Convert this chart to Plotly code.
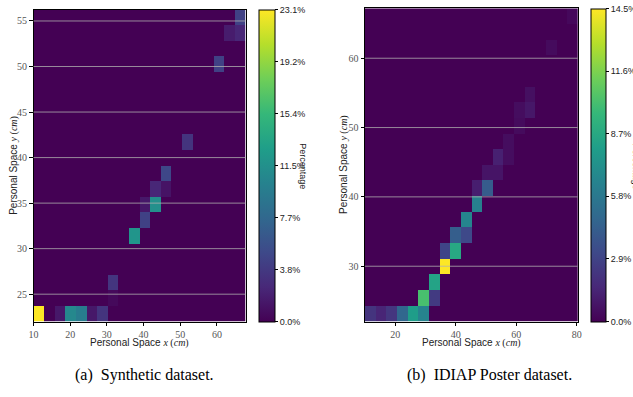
import numpy as np
import plotly.graph_objects as go

W, H = 633, 397

# ---------------- data ----------------
# (a) Synthetic dataset: 20x20 histogram (percent)
syn_x_range = [10.0, 67.8]
syn_y_range = [22.0, 56.26]
syn_nbins = 20
syn_ix = [0, 2, 3, 4, 5, 6, 7, 7, 9, 10, 10, 11, 11, 12, 12, 14, 17, 18, 19, 19]
syn_iy = [0, 0, 0, 0, 0, 0, 1, 2, 5, 6, 7, 7, 8, 8, 9, 11, 16, 18, 18, 19]
syn_pct = [23.07, 1.5, 10.8, 9.7, 1.5, 3.5, 0.5, 3.6, 12.0, 4.5, 1.5, 11.5, 2.5,
           1.2, 5.0, 3.5, 4.5, 1.8, 2.5, 4.5]
syn_xticks = [10, 20, 30, 40, 50, 60]
syn_yticks = [25, 30, 35, 40, 45, 50, 55]

# (b) IDIAP Poster dataset
idi_x_range = [10.0, 80.3]
idi_y_range = [22.0, 67.2]
idi_nbins = 20
idi_ix = [0, 1, 2, 3, 4, 5, 5, 6, 6, 7, 7, 8, 8, 9, 9, 10, 10, 11, 11, 12, 12, 13,
          13, 14, 14, 15, 15, 17, 19]
idi_iy = [0, 0, 0, 0, 0, 0, 1, 1, 2, 3, 4, 4, 5, 5, 6, 7, 8, 8, 9, 9, 10, 10,
          11, 12, 13, 13, 14, 17, 19]
idi_pct = [2.2, 1.5, 2.3, 4.8, 8.0, 6.5, 10.2, 2.5, 8.4, 14.5, 3.0, 8.7, 4.3, 3.2,
           6.6, 6.3, 1.2, 4.2, 0.8, 0.8, 1.3, 0.5, 0.5, 0.4, 0.5, 0.9, 0.6, 0.4, 0.3]
idi_xticks = [20, 40, 60, 80]
idi_yticks = [30, 40, 50, 60]

captions = ["(a)  Synthetic dataset.", "(b)  IDIAP Poster dataset."]


def build(ix, iy, pct, n):
    z = np.zeros((n, n))
    for a, b, v in zip(ix, iy, pct):
        z[b, a] = v
    return z


def fx(p):
    return p / W


def fy(p):
    return 1 - p / H


TICKFONT = dict(family="Liberation Serif, DejaVu Serif, serif", size=10, color="#555")
CBFONT = dict(family="Liberation Sans, Arial, sans-serif", size=9, color="#222")

fig = go.Figure()

panels = [
    dict(xr=syn_x_range, yr=syn_y_range, n=syn_nbins, z=build(syn_ix, syn_iy, syn_pct, syn_nbins),
         zmax=max(syn_pct), nt=7, xt=syn_xticks, yt=syn_yticks,
         dom_x=[fx(33.5), fx(245.5)], dom_y=[fy(321.5), fy(9.5)],
         cb_x=258.5, cb_th=16, xa="x", ya="y"),
    dict(xr=idi_x_range, yr=idi_y_range, n=idi_nbins, z=build(idi_ix, idi_iy, idi_pct, idi_nbins),
         zmax=max(idi_pct), nt=6, xt=idi_xticks, yt=idi_yticks,
         dom_x=[fx(365), fx(577.7)], dom_y=[fy(321.7), fy(8.3)],
         cb_x=591, cb_th=15, xa="x2", ya="y2"),
]

for k, p in enumerate(panels):
    dx = (p["xr"][1] - p["xr"][0]) / p["n"]
    dy = (p["yr"][1] - p["yr"][0]) / p["n"]
    tv = list(np.linspace(0, p["zmax"], p["nt"]))
    fig.add_trace(go.Heatmap(
        z=p["z"], x0=p["xr"][0] + dx / 2, dx=dx, y0=p["yr"][0] + dy / 2, dy=dy,
        colorscale="Viridis", zmin=0, zmax=p["zmax"], xaxis=p["xa"], yaxis=p["ya"],
        hoverinfo="skip",
        colorbar=dict(
            x=fx(p["cb_x"]), xanchor="left", xpad=0, ypad=0,
            y=(p["dom_y"][0] + p["dom_y"][1]) / 2, yanchor="middle",
            len=p["dom_y"][1] - p["dom_y"][0], lenmode="fraction",
            thickness=p["cb_th"], thicknessmode="pixels",
            outlinewidth=1, outlinecolor="black",
            tickvals=tv, ticktext=[f"{v:.1f}%" for v in tv],
            ticks="outside", ticklen=3, tickcolor="black", tickfont=CBFONT,
        ),
    ))
    axkey = "xaxis" if k == 0 else "xaxis2"
    aykey = "yaxis" if k == 0 else "yaxis2"
    fig.layout[axkey] = dict(
        domain=p["dom_x"], range=p["xr"], tickvals=p["xt"], showgrid=False, zeroline=False,
        showline=True, linecolor="black", linewidth=1, mirror=True, automargin=False,
        ticks="outside", ticklen=3.5, tickcolor="black", tickfont=TICKFONT,
        anchor=p["ya"],
    )
    fig.layout[aykey] = dict(
        domain=p["dom_y"], range=p["yr"], tickvals=p["yt"], showgrid=False, zeroline=False,
        showline=True, linecolor="black", linewidth=1, mirror=True, automargin=False,
        ticks="outside", ticklen=3.5, tickcolor="black", tickfont=TICKFONT,
        anchor=p["xa"],
    )
    for t in p["yt"]:
        fig.add_shape(type="line", xref=f"{p['xa']} domain", yref=p["ya"],
                      x0=0, x1=1, y0=t, y1=t, layer="above",
                      line=dict(color="rgba(176,176,176,0.78)", width=1))

SANS = "Liberation Sans, Arial, sans-serif"
SER = "Liberation Serif"
xlab = f"Personal Space <span style=\"font-family:{SER}\"><i>x</i> (<i>cm</i>)</span>"
ylab = f"Personal Space <span style=\"font-family:{SER}\"><i>y</i> (<i>cm</i>)</span>"

ann = []
for cx in [139.5, 471.3]:
    ann.append(dict(text=xlab, x=fx(cx), y=fy(342.5), xref="paper", yref="paper",
                    showarrow=False, xanchor="center", yanchor="middle",
                    font=dict(family=SANS, size=10, color="#222")))
for cx, cy in [(13.3, 165.5), (344, 165)]:
    ann.append(dict(text=ylab, x=fx(cx), y=fy(cy), xref="paper", yref="paper",
                    showarrow=False, xanchor="center", yanchor="middle", textangle=-90,
                    font=dict(family=SANS, size=10, color="#222")))
for cx in [302.7, 635.5]:
    ann.append(dict(text="Percentage", x=fx(cx), y=fy(166), xref="paper", yref="paper",
                    showarrow=False, xanchor="center", yanchor="middle", textangle=90,
                    font=dict(family=SANS, size=9, color="#222")))
for cx, txt in zip([144, 489], captions):
    ann.append(dict(text=txt, x=fx(cx), y=fy(375), xref="paper", yref="paper",
                    showarrow=False, xanchor="center", yanchor="middle",
                    font=dict(family="Liberation Serif, Times New Roman, serif", size=16, color="black")))

fig.update_layout(
    width=W, height=H, margin=dict(l=0, r=0, t=0, b=0, pad=0, autoexpand=False),
    paper_bgcolor="white", plot_bgcolor="white", showlegend=False,
    annotations=ann,
)

fig.write_html("out.html", config={"displayModeBar": False},
               post_script="document.body.style.margin='0';document.body.style.overflow='hidden';")
